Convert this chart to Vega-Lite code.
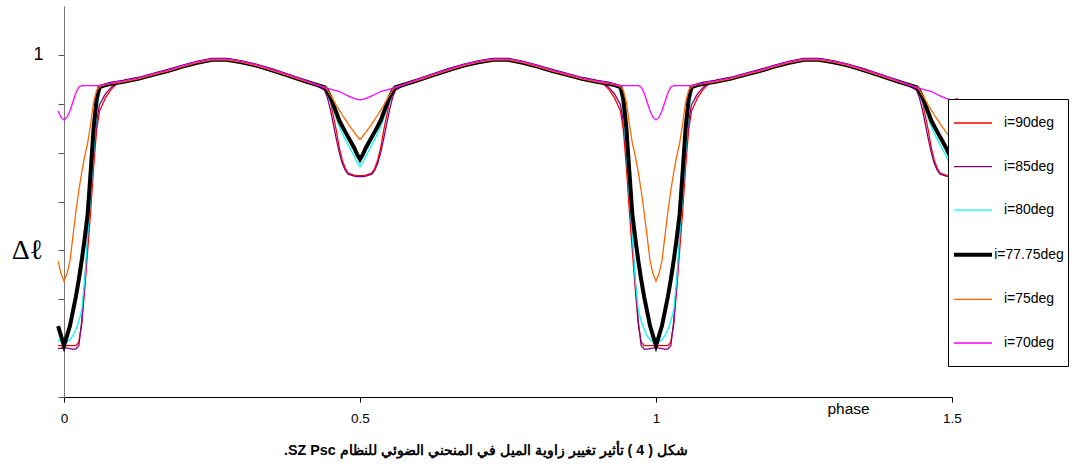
{
 "$schema": "https://vega.github.io/schema/vega-lite/v6.json",
 "width": 888, "height": 391,
 "autosize": {"type": "none"},
 "padding": {"left": 64, "top": 6, "right": 126, "bottom": 76},
 "background": "white",
 "config": {"view": {"stroke": null}, "font": "Liberation Sans"},
 "title": {"text": "\u202bشكل ( 4 ) تأثير تغيير زاوية الميل في المنحني الضوئي للنظام SZ Psc.\u202c", "orient": "bottom", "anchor": "middle", "fontSize": 14.3, "fontWeight": "bold", "font": "Liberation Sans", "color": "black", "dx": -22, "offset": 19},
 "data": {"values": [
  {"x":-0.01,"a":0.405,"b":0.399,"c":0.418,"d":0.445,"e":0.578,"f":0.885},
  {"x":-0.005,"a":0.405,"b":0.400,"c":0.412,"d":0.425,"e":0.552,"f":0.872},
  {"x":0,"a":0.405,"b":0.402,"c":0.408,"d":0.405,"e":0.537,"f":0.867},
  {"x":0.005,"a":0.405,"b":0.400,"c":0.412,"d":0.425,"e":0.552,"f":0.872},
  {"x":0.01,"a":0.405,"b":0.399,"c":0.418,"d":0.445,"e":0.578,"f":0.885},
  {"x":0.015,"a":0.405,"b":0.398,"c":0.425,"d":0.475,"e":0.628,"f":0.903},
  {"x":0.02,"a":0.405,"b":0.398,"c":0.438,"d":0.505,"e":0.678,"f":0.922},
  {"x":0.025,"a":0.412,"b":0.405,"c":0.455,"d":0.540,"e":0.722,"f":0.934},
  {"x":0.03,"a":0.450,"b":0.455,"c":0.478,"d":0.580,"e":0.760,"f":0.937},
  {"x":0.035,"a":0.520,"b":0.535,"c":0.540,"d":0.625,"e":0.793,"f":0.937},
  {"x":0.04,"a":0.600,"b":0.625,"c":0.630,"d":0.675,"e":0.820,"f":0.937},
  {"x":0.045,"a":0.680,"b":0.715,"c":0.712,"d":0.760,"e":0.858,"f":0.937},
  {"x":0.05,"a":0.770,"b":0.795,"c":0.800,"d":0.850,"e":0.903,"f":0.937},
  {"x":0.055,"a":0.845,"b":0.862,"c":0.880,"d":0.908,"e":0.927,"f":0.937},
  {"x":0.06,"a":0.885,"b":0.898,"c":0.930,"d":0.934,"e":0.935,"f":0.937},
  {"x":0.07,"a":0.912,"b":0.920,"c":0.937,"d":0.938,"e":0.939,"f":0.940},
  {"x":0.08,"a":0.930,"b":0.934,"c":0.940,"d":0.941,"e":0.941,"f":0.942},
  {"x":0.09,"a":0.942,"b":0.942,"c":0.943,"d":0.943,"e":0.943,"f":0.945},
  {"x":0.1,"a":0.945,"b":0.945,"c":0.945,"d":0.945,"e":0.945,"f":0.947},
  {"x":0.125,"a":0.951,"b":0.951,"c":0.951,"d":0.951,"e":0.951,"f":0.953},
  {"x":0.15,"a":0.959,"b":0.959,"c":0.959,"d":0.959,"e":0.959,"f":0.961},
  {"x":0.175,"a":0.967,"b":0.967,"c":0.967,"d":0.967,"e":0.967,"f":0.969},
  {"x":0.2,"a":0.976,"b":0.976,"c":0.976,"d":0.976,"e":0.976,"f":0.978},
  {"x":0.225,"a":0.984,"b":0.984,"c":0.984,"d":0.984,"e":0.984,"f":0.986},
  {"x":0.25,"a":0.990,"b":0.990,"c":0.990,"d":0.990,"e":0.990,"f":0.992},
  {"x":0.275,"a":0.990,"b":0.990,"c":0.990,"d":0.990,"e":0.990,"f":0.992},
  {"x":0.3,"a":0.985,"b":0.985,"c":0.985,"d":0.985,"e":0.985,"f":0.987},
  {"x":0.325,"a":0.978,"b":0.978,"c":0.978,"d":0.978,"e":0.978,"f":0.980},
  {"x":0.35,"a":0.969,"b":0.969,"c":0.969,"d":0.969,"e":0.969,"f":0.971},
  {"x":0.375,"a":0.959,"b":0.959,"c":0.959,"d":0.959,"e":0.959,"f":0.961},
  {"x":0.4,"a":0.949,"b":0.949,"c":0.949,"d":0.949,"e":0.949,"f":0.951},
  {"x":0.42,"a":0.941,"b":0.941,"c":0.941,"d":0.941,"e":0.941,"f":0.942},
  {"x":0.44,"a":0.933,"b":0.928,"c":0.933,"d":0.934,"e":0.934,"f":0.933},
  {"x":0.445,"a":0.924,"b":0.912,"c":0.922,"d":0.926,"e":0.928,"f":0.932},
  {"x":0.45,"a":0.905,"b":0.888,"c":0.905,"d":0.913,"e":0.918,"f":0.930},
  {"x":0.455,"a":0.875,"b":0.858,"c":0.888,"d":0.898,"e":0.908,"f":0.928},
  {"x":0.46,"a":0.845,"b":0.828,"c":0.870,"d":0.882,"e":0.897,"f":0.927},
  {"x":0.465,"a":0.810,"b":0.800,"c":0.853,"d":0.866,"e":0.887,"f":0.925},
  {"x":0.47,"a":0.785,"b":0.778,"c":0.840,"d":0.854,"e":0.877,"f":0.922},
  {"x":0.475,"a":0.768,"b":0.764,"c":0.828,"d":0.843,"e":0.868,"f":0.919},
  {"x":0.48,"a":0.758,"b":0.756,"c":0.816,"d":0.832,"e":0.859,"f":0.916},
  {"x":0.49,"a":0.754,"b":0.752,"c":0.793,"d":0.810,"e":0.842,"f":0.911},
  {"x":0.495,"a":0.753,"b":0.751,"c":0.780,"d":0.797,"e":0.834,"f":0.909},
  {"x":0.5,"a":0.753,"b":0.751,"c":0.771,"d":0.786,"e":0.827,"f":0.908},
  {"x":0.505,"a":0.753,"b":0.751,"c":0.780,"d":0.797,"e":0.834,"f":0.909},
  {"x":0.51,"a":0.754,"b":0.752,"c":0.793,"d":0.810,"e":0.842,"f":0.911},
  {"x":0.52,"a":0.758,"b":0.756,"c":0.816,"d":0.832,"e":0.859,"f":0.916},
  {"x":0.525,"a":0.768,"b":0.764,"c":0.828,"d":0.843,"e":0.868,"f":0.919},
  {"x":0.53,"a":0.785,"b":0.778,"c":0.840,"d":0.854,"e":0.877,"f":0.922},
  {"x":0.535,"a":0.810,"b":0.800,"c":0.853,"d":0.866,"e":0.887,"f":0.925},
  {"x":0.54,"a":0.845,"b":0.828,"c":0.870,"d":0.882,"e":0.897,"f":0.927},
  {"x":0.545,"a":0.875,"b":0.858,"c":0.888,"d":0.898,"e":0.908,"f":0.928},
  {"x":0.55,"a":0.905,"b":0.888,"c":0.905,"d":0.913,"e":0.918,"f":0.930},
  {"x":0.555,"a":0.924,"b":0.912,"c":0.922,"d":0.926,"e":0.928,"f":0.932},
  {"x":0.56,"a":0.933,"b":0.928,"c":0.933,"d":0.934,"e":0.934,"f":0.933},
  {"x":0.58,"a":0.941,"b":0.941,"c":0.941,"d":0.941,"e":0.941,"f":0.942},
  {"x":0.6,"a":0.949,"b":0.949,"c":0.949,"d":0.949,"e":0.949,"f":0.951},
  {"x":0.625,"a":0.959,"b":0.959,"c":0.959,"d":0.959,"e":0.959,"f":0.961},
  {"x":0.65,"a":0.969,"b":0.969,"c":0.969,"d":0.969,"e":0.969,"f":0.971},
  {"x":0.675,"a":0.978,"b":0.978,"c":0.978,"d":0.978,"e":0.978,"f":0.980},
  {"x":0.7,"a":0.985,"b":0.985,"c":0.985,"d":0.985,"e":0.985,"f":0.987},
  {"x":0.725,"a":0.990,"b":0.990,"c":0.990,"d":0.990,"e":0.990,"f":0.992},
  {"x":0.75,"a":0.990,"b":0.990,"c":0.990,"d":0.990,"e":0.990,"f":0.992},
  {"x":0.775,"a":0.984,"b":0.984,"c":0.984,"d":0.984,"e":0.984,"f":0.986},
  {"x":0.8,"a":0.976,"b":0.976,"c":0.976,"d":0.976,"e":0.976,"f":0.978},
  {"x":0.825,"a":0.967,"b":0.967,"c":0.967,"d":0.967,"e":0.967,"f":0.969},
  {"x":0.85,"a":0.959,"b":0.959,"c":0.959,"d":0.959,"e":0.959,"f":0.961},
  {"x":0.875,"a":0.951,"b":0.951,"c":0.951,"d":0.951,"e":0.951,"f":0.953},
  {"x":0.9,"a":0.945,"b":0.945,"c":0.945,"d":0.945,"e":0.945,"f":0.947},
  {"x":0.91,"a":0.942,"b":0.942,"c":0.943,"d":0.943,"e":0.943,"f":0.945},
  {"x":0.92,"a":0.930,"b":0.934,"c":0.940,"d":0.941,"e":0.941,"f":0.942},
  {"x":0.93,"a":0.912,"b":0.920,"c":0.937,"d":0.938,"e":0.939,"f":0.940},
  {"x":0.94,"a":0.885,"b":0.898,"c":0.930,"d":0.934,"e":0.935,"f":0.937},
  {"x":0.945,"a":0.845,"b":0.862,"c":0.880,"d":0.908,"e":0.927,"f":0.937},
  {"x":0.95,"a":0.770,"b":0.795,"c":0.800,"d":0.850,"e":0.903,"f":0.937},
  {"x":0.955,"a":0.680,"b":0.715,"c":0.712,"d":0.760,"e":0.858,"f":0.937},
  {"x":0.96,"a":0.600,"b":0.625,"c":0.630,"d":0.675,"e":0.820,"f":0.937},
  {"x":0.965,"a":0.520,"b":0.535,"c":0.540,"d":0.625,"e":0.793,"f":0.937},
  {"x":0.97,"a":0.450,"b":0.455,"c":0.478,"d":0.580,"e":0.760,"f":0.937},
  {"x":0.975,"a":0.412,"b":0.405,"c":0.455,"d":0.540,"e":0.722,"f":0.934},
  {"x":0.98,"a":0.405,"b":0.398,"c":0.438,"d":0.505,"e":0.678,"f":0.922},
  {"x":0.985,"a":0.405,"b":0.398,"c":0.425,"d":0.475,"e":0.628,"f":0.903},
  {"x":0.99,"a":0.405,"b":0.399,"c":0.418,"d":0.445,"e":0.578,"f":0.885},
  {"x":0.995,"a":0.405,"b":0.400,"c":0.412,"d":0.425,"e":0.552,"f":0.872},
  {"x":1.0,"a":0.405,"b":0.402,"c":0.408,"d":0.405,"e":0.537,"f":0.867},
  {"x":1.005,"a":0.405,"b":0.400,"c":0.412,"d":0.425,"e":0.552,"f":0.872},
  {"x":1.01,"a":0.405,"b":0.399,"c":0.418,"d":0.445,"e":0.578,"f":0.885},
  {"x":1.015,"a":0.405,"b":0.398,"c":0.425,"d":0.475,"e":0.628,"f":0.903},
  {"x":1.02,"a":0.405,"b":0.398,"c":0.438,"d":0.505,"e":0.678,"f":0.922},
  {"x":1.025,"a":0.412,"b":0.405,"c":0.455,"d":0.540,"e":0.722,"f":0.934},
  {"x":1.03,"a":0.450,"b":0.455,"c":0.478,"d":0.580,"e":0.760,"f":0.937},
  {"x":1.035,"a":0.520,"b":0.535,"c":0.540,"d":0.625,"e":0.793,"f":0.937},
  {"x":1.04,"a":0.600,"b":0.625,"c":0.630,"d":0.675,"e":0.820,"f":0.937},
  {"x":1.045,"a":0.680,"b":0.715,"c":0.712,"d":0.760,"e":0.858,"f":0.937},
  {"x":1.05,"a":0.770,"b":0.795,"c":0.800,"d":0.850,"e":0.903,"f":0.937},
  {"x":1.055,"a":0.845,"b":0.862,"c":0.880,"d":0.908,"e":0.927,"f":0.937},
  {"x":1.06,"a":0.885,"b":0.898,"c":0.930,"d":0.934,"e":0.935,"f":0.937},
  {"x":1.07,"a":0.912,"b":0.920,"c":0.937,"d":0.938,"e":0.939,"f":0.940},
  {"x":1.08,"a":0.930,"b":0.934,"c":0.940,"d":0.941,"e":0.941,"f":0.942},
  {"x":1.09,"a":0.942,"b":0.942,"c":0.943,"d":0.943,"e":0.943,"f":0.945},
  {"x":1.1,"a":0.945,"b":0.945,"c":0.945,"d":0.945,"e":0.945,"f":0.947},
  {"x":1.125,"a":0.951,"b":0.951,"c":0.951,"d":0.951,"e":0.951,"f":0.953},
  {"x":1.15,"a":0.959,"b":0.959,"c":0.959,"d":0.959,"e":0.959,"f":0.961},
  {"x":1.175,"a":0.967,"b":0.967,"c":0.967,"d":0.967,"e":0.967,"f":0.969},
  {"x":1.2,"a":0.976,"b":0.976,"c":0.976,"d":0.976,"e":0.976,"f":0.978},
  {"x":1.225,"a":0.984,"b":0.984,"c":0.984,"d":0.984,"e":0.984,"f":0.986},
  {"x":1.25,"a":0.990,"b":0.990,"c":0.990,"d":0.990,"e":0.990,"f":0.992},
  {"x":1.275,"a":0.990,"b":0.990,"c":0.990,"d":0.990,"e":0.990,"f":0.992},
  {"x":1.3,"a":0.985,"b":0.985,"c":0.985,"d":0.985,"e":0.985,"f":0.987},
  {"x":1.325,"a":0.978,"b":0.978,"c":0.978,"d":0.978,"e":0.978,"f":0.980},
  {"x":1.35,"a":0.969,"b":0.969,"c":0.969,"d":0.969,"e":0.969,"f":0.971},
  {"x":1.375,"a":0.959,"b":0.959,"c":0.959,"d":0.959,"e":0.959,"f":0.961},
  {"x":1.4,"a":0.949,"b":0.949,"c":0.949,"d":0.949,"e":0.949,"f":0.951},
  {"x":1.42,"a":0.941,"b":0.941,"c":0.941,"d":0.941,"e":0.941,"f":0.942},
  {"x":1.44,"a":0.933,"b":0.928,"c":0.933,"d":0.934,"e":0.934,"f":0.933},
  {"x":1.445,"a":0.924,"b":0.912,"c":0.922,"d":0.926,"e":0.928,"f":0.932},
  {"x":1.45,"a":0.905,"b":0.888,"c":0.905,"d":0.913,"e":0.918,"f":0.930},
  {"x":1.455,"a":0.875,"b":0.858,"c":0.888,"d":0.898,"e":0.908,"f":0.928},
  {"x":1.46,"a":0.845,"b":0.828,"c":0.870,"d":0.882,"e":0.897,"f":0.927},
  {"x":1.465,"a":0.810,"b":0.800,"c":0.853,"d":0.866,"e":0.887,"f":0.925},
  {"x":1.47,"a":0.785,"b":0.778,"c":0.840,"d":0.854,"e":0.877,"f":0.922},
  {"x":1.475,"a":0.768,"b":0.764,"c":0.828,"d":0.843,"e":0.868,"f":0.919},
  {"x":1.48,"a":0.758,"b":0.756,"c":0.816,"d":0.832,"e":0.859,"f":0.916},
  {"x":1.49,"a":0.754,"b":0.752,"c":0.793,"d":0.810,"e":0.842,"f":0.911},
  {"x":1.495,"a":0.753,"b":0.751,"c":0.780,"d":0.797,"e":0.834,"f":0.909},
  {"x":1.5,"a":0.753,"b":0.751,"c":0.771,"d":0.786,"e":0.827,"f":0.908},
  {"x":1.505,"a":0.753,"b":0.751,"c":0.780,"d":0.797,"e":0.834,"f":0.909},
  {"x":1.51,"a":0.754,"b":0.752,"c":0.793,"d":0.810,"e":0.842,"f":0.911}
 ]},
 "transform": [{"fold": ["a", "b", "c", "d", "e", "f"], "as": ["k", "v"]}],
 "mark": {"type": "line", "interpolate": "linear"},
 "encoding": {
  "x": {"field": "x", "type": "quantitative",
   "scale": {"domain": [0, 1.5], "nice": false, "zero": false},
   "axis": {"values": [0, 0.5, 1, 1.5], "format": "~g", "grid": false, "title": "phase",
    "titleX": 784, "titleY": 11, "titleFontSize": 15.5, "titleFontWeight": "normal", "titleBaseline": "middle", "titleAlign": "center", "titleColor": "black", "titleFont": "Liberation Sans",
    "labelFontSize": 13.5, "labelColor": "black", "labelPadding": 9, "labelFont": "Liberation Sans", "labelFlush": false, "labelOverlap": false,
    "tickSize": 5, "tickColor": "black", "domainColor": "black"}},
  "y": {"field": "v", "type": "quantitative",
   "scale": {"domain": [0.3, 1.1], "nice": false, "zero": false},
   "axis": {"values": [0.3, 0.4, 0.5, 0.6, 0.7, 0.8, 0.9, 1], "labelExpr": "datum.value > 0.99 ? '1' : ''", "grid": false,
    "labelFontSize": 18, "labelColor": "black", "labelPadding": 15, "labelFont": "Liberation Sans",
    "tickSize": 6, "tickColor": "#555555", "domainColor": "#777777",
    "title": "Δℓ", "titleAngle": 0, "titleFont": "Liberation Serif", "titleFontSize": 28, "titleFontWeight": "normal",
    "titleX": -37, "titleY": 244, "titleAlign": "center", "titleBaseline": "middle", "titleColor": "black"}},
  "color": {"field": "k", "type": "nominal",
   "scale": {"domain": ["a", "b", "c", "d", "e", "f"], "range": ["#FF0000", "#800080", "#00FFFF", "#000000", "#FF6600", "#FF00FF"]},
   "legend": {"title": " ", "titleOrient": "bottom", "titleFontSize": 10, "titlePadding": 2, "orient": "none", "legendX": 884, "legendY": 93, "symbolType": "stroke", "symbolSize": 1444,
    "labelFontSize": 14, "labelFont": "Liberation Sans", "labelColor": "black", "labelAlign": "center", "strokeColor": "black", "fillColor": "white",
    "padding": 4, "rowPadding": 16.6, "labelOffset": 35,
    "labelExpr": "datum.value == 'a' ? 'i=90deg' : datum.value == 'b' ? 'i=85deg' : datum.value == 'c' ? 'i=80deg' : datum.value == 'd' ? 'i=77.75deg' : datum.value == 'e' ? 'i=75deg' : 'i=70deg'"}},
  "strokeWidth": {"field": "k", "type": "nominal",
   "scale": {"type": "ordinal", "domain": ["a", "b", "c", "d", "e", "f"], "range": [1.3, 1.3, 1.3, 4, 1.3, 1.3]},
   "legend": {"title": " ", "titleOrient": "bottom", "titleFontSize": 10, "titlePadding": 2, "orient": "none", "legendX": 884, "legendY": 93, "symbolType": "stroke", "symbolSize": 1444,
    "labelFontSize": 14, "labelFont": "Liberation Sans", "labelColor": "black", "labelAlign": "center", "strokeColor": "black", "fillColor": "white",
    "padding": 4, "rowPadding": 16.6, "labelOffset": 35,
    "labelExpr": "datum.value == 'a' ? 'i=90deg' : datum.value == 'b' ? 'i=85deg' : datum.value == 'c' ? 'i=80deg' : datum.value == 'd' ? 'i=77.75deg' : datum.value == 'e' ? 'i=75deg' : 'i=70deg'"}}
 }
}
